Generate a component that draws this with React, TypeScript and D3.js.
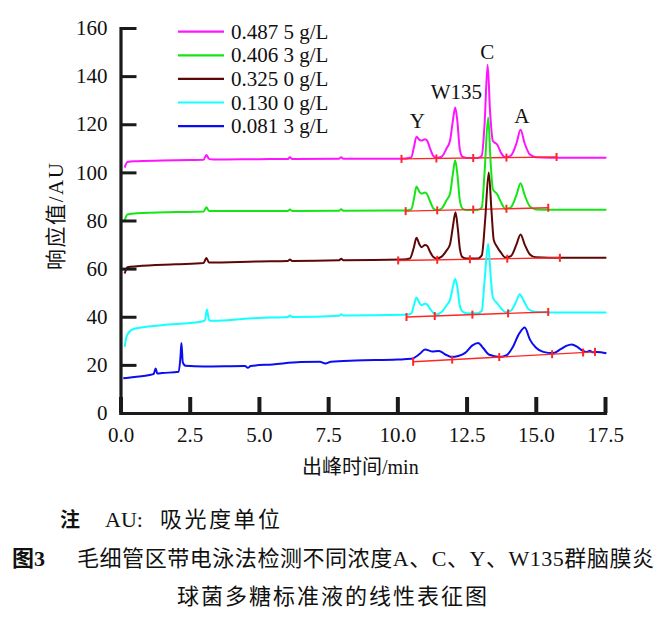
import React, { useEffect, useRef } from 'react';
import * as d3 from 'd3';

type Pt = [number, number];

// legend / series
const concentrations = ['0.487 5 g/L', '0.406 3 g/L', '0.325 0 g/L', '0.130 0 g/L', '0.081 3 g/L'];
const traceColors = ['#ff14ff', '#14e614', '#5e0707', '#14ffff', '#0c0cf0'];

// electropherograms, [time (min), response (AU)]
const trace4875: Pt[] = [
  [0.15, 102], [0.25, 104.3], [0.5, 104.6], [1.5, 104.9], [2.5, 105.1], [3.0, 105.2], [3.1, 107.2], [3.2, 105.6],
  [3.35, 105.3], [5, 105.5], [6.05, 105.6], [6.12, 106.3], [6.2, 105.6], [7.9, 105.7], [7.97, 106.3], [8.05, 105.7],
  [10.2, 105.7], [10.5, 106.2], [10.6, 110.5], [10.69, 114.8], [10.8, 113.5], [10.87, 113.2], [11.0, 113.8],
  [11.07, 113.3], [11.18, 110], [11.3, 106.8], [11.42, 106], [11.6, 106.5], [11.78, 110], [11.9, 113], [12.0, 121],
  [12.09, 127], [12.17, 121], [12.25, 110], [12.35, 106.5], [12.5, 106], [12.9, 106], [13.05, 107], [13.15, 120],
  [13.26, 144.7], [13.35, 125], [13.45, 113], [13.61, 111.5], [13.75, 108], [13.9, 106.3], [14.1, 107], [14.3, 112],
  [14.45, 117.7], [14.6, 112], [14.78, 107.5], [15.0, 106.3], [15.5, 106.1], [16.5, 106.1], [17.55, 106.1],
];
const trace4063: Pt[] = [
  [0.15, 80], [0.25, 82.5], [0.6, 83], [2, 83.5], [3.0, 83.7], [3.1, 85.5], [3.2, 83.9], [5, 84], [6.05, 84],
  [6.12, 84.6], [6.2, 84], [7.9, 84.1], [7.97, 84.7], [8.05, 84.1], [10.3, 84.2], [10.5, 84.6], [10.6, 89],
  [10.69, 94.1], [10.8, 91.8], [10.87, 91.2], [11.0, 91.6], [11.07, 91], [11.18, 88], [11.3, 85], [11.42, 84.3],
  [11.6, 85], [11.78, 88.5], [11.9, 91], [12.0, 99], [12.09, 105], [12.17, 99], [12.25, 89], [12.35, 85], [12.5, 84.4],
  [12.9, 84.4], [13.05, 85.5], [13.15, 100], [13.28, 122.8], [13.37, 104], [13.45, 93], [13.6, 91], [13.75, 87.5],
  [13.9, 84.8], [14.1, 85.5], [14.3, 90.5], [14.45, 95.5], [14.6, 90.5], [14.78, 86], [15.0, 84.6], [15.5, 84.5],
  [17.55, 84.5],
];
const trace3250: Pt[] = [
  [0.15, 58], [0.25, 60.6], [0.6, 61], [2, 61.8], [3.0, 62.3], [3.1, 64.4], [3.2, 62.5], [5, 63], [6.05, 63.2],
  [6.12, 63.8], [6.2, 63.2], [7.9, 63.5], [7.97, 64.1], [8.05, 63.5], [10.2, 63.8], [10.45, 64.2], [10.6, 69],
  [10.69, 72.8], [10.8, 70], [10.87, 68.9], [11.0, 69.8], [11.07, 69.6], [11.18, 67], [11.3, 64.8], [11.42, 64.2],
  [11.6, 65], [11.78, 67.6], [11.9, 70], [12.0, 77], [12.1, 83.4], [12.18, 77], [12.26, 68], [12.35, 64.8],
  [12.5, 64.2], [12.9, 64.2], [13.05, 65.5], [13.17, 80], [13.3, 100], [13.4, 84], [13.48, 72], [13.61, 68.9],
  [13.75, 66.5], [13.9, 64.6], [14.1, 65.2], [14.3, 70], [14.45, 74.2], [14.6, 70], [14.78, 66], [15.0, 64.7],
  [15.5, 64.5], [17.55, 64.5],
];
const trace1300: Pt[] = [
  [0.15, 27.5], [0.2, 31], [0.27, 33], [0.5, 35], [1.5, 36.5], [2.85, 37.8], [3.05, 38.5], [3.12, 43], [3.2, 38.6],
  [3.3, 38.3], [5, 39.5], [6.05, 39.9], [6.12, 40.5], [6.2, 39.9], [7.9, 40.4], [7.97, 41], [8.05, 40.5], [10.3, 40.8],
  [10.5, 41.3], [10.6, 45], [10.69, 48], [10.8, 45.7], [10.87, 44.8], [11.0, 45.4], [11.07, 45.2], [11.18, 43.3],
  [11.3, 41.6], [11.42, 41], [11.6, 42], [11.78, 44.8], [11.9, 47], [12.0, 52], [12.09, 55.8], [12.17, 52], [12.25, 45],
  [12.35, 42.2], [12.5, 41.5], [12.9, 41.5], [13.05, 42.5], [13.15, 55], [13.28, 70.3], [13.37, 57], [13.45, 48],
  [13.61, 45.5], [13.75, 43.5], [13.9, 41.9], [14.1, 42.5], [14.3, 46.5], [14.42, 49.3], [14.57, 46.5], [14.75, 43],
  [15.0, 42], [15.5, 41.8], [17.55, 41.8],
];
const trace0813: Pt[] = [
  [0.1, 14.4], [0.5, 15], [1.05, 15.8], [1.2, 16.3], [1.27, 18.5], [1.33, 16.4], [1.5, 16.6], [2.1, 17.1], [2.17, 24],
  [2.2, 29.1], [2.25, 21], [2.35, 19.6], [3, 19.3], [4.5, 19.5], [4.6, 18.8], [4.7, 19.5], [5.5, 20.2], [6.5, 21.2],
  [7.2, 21.3], [7.4, 20.6], [7.6, 21.3], [8.5, 21.8], [10, 22.2], [10.5, 22.5], [10.8, 24.5], [11.0, 26.4],
  [11.25, 25.6], [11.5, 25.8], [11.75, 24.2], [11.95, 23.3], [12.2, 23.7], [12.45, 25], [12.7, 28], [12.92, 29.1],
  [13.1, 27], [13.3, 24.3], [13.7, 23.3], [13.95, 24], [14.15, 27], [14.4, 33], [14.6, 35.5], [14.79, 30.5],
  [15.0, 27.2], [15.27, 25.4], [15.63, 24.9], [15.9, 26.5], [16.1, 27.9], [16.3, 28.5], [16.5, 27.5], [16.7, 25.8],
  [16.85, 25.4], [16.95, 25.9], [17.05, 25.2], [17.2, 25.4], [17.55, 24.8],
];

// integration baselines (red) and their cut marks
const baseline4875: Pt[] = [[10.15, 105.6], [15.75, 106.4]];
const baseline4063: Pt[] = [[10.3, 83.9], [15.45, 85.3]];
const baseline3250: Pt[] = [[10.03, 63.4], [15.87, 64.5]];
const baseline1300: Pt[] = [[10.33, 39.9], [15.45, 42]];
const baseline0813: Pt[] = [[10.57, 21.3], [17.14, 25.4]];
const marks4875 = [10.15, 11.41, 12.74, 13.94, 15.75];
const marks4063 = [10.3, 11.44, 12.74, 13.94, 15.45];
const marks3250 = [10.03, 11.44, 12.62, 13.97, 15.87];
const marks1300 = [10.33, 11.35, 12.71, 14.0, 15.45];
const marks0813 = [10.57, 11.98, 13.68, 15.59, 16.71, 17.14];

// peak annotations
const peakNames = ['Y', 'W135', 'C', 'A'];
const peakTimes = [10.72, 12.13, 13.25, 14.5];
const peakLabelLevels = [118.4, 130.6, 147, 120.7];

const yTicks = [0, 20, 40, 60, 80, 100, 120, 140, 160];
const xTicks = [0, 2.5, 5, 7.5, 10, 12.5, 15, 17.5];

const serif = '"Liberation Serif", "Times New Roman", "Noto Sans CJK SC", serif';
const cjk = '"Liberation Serif", "Noto Sans CJK SC", serif';

function Chart() {
  const ref = useRef<SVGSVGElement>(null);

  useEffect(() => {
    const svg = d3.select(ref.current);
    svg.selectAll('*').remove();

    const x = d3.scaleLinear().domain([0, 17.5]).range([120.5, 605]);
    const y = d3.scaleLinear().domain([0, 160]).range([413, 28]);
    const line = d3.line<Pt>().x(d => x(d[0])).y(d => y(d[1])).curve(d3.curveMonotoneX);
    const straight = d3.line<Pt>().x(d => x(d[0])).y(d => y(d[1]));

    const series = [
      { trace: trace4875, base: baseline4875, marks: marks4875 },
      { trace: trace4063, base: baseline4063, marks: marks4063 },
      { trace: trace3250, base: baseline3250, marks: marks3250 },
      { trace: trace1300, base: baseline1300, marks: marks1300 },
      { trace: trace0813, base: baseline0813, marks: marks0813 },
    ];

    const plot = svg.append('g');
    series.forEach((s, i) => {
      plot.append('path')
        .datum(s.trace)
        .attr('d', line)
        .attr('fill', 'none')
        .attr('stroke', traceColors[i])
        .attr('stroke-width', 2)
        .attr('stroke-linejoin', 'round');

      plot.append('path')
        .datum(s.base)
        .attr('d', straight)
        .attr('fill', 'none')
        .attr('stroke', '#ff2626')
        .attr('stroke-width', 1.4);

      const along = d3.scaleLinear().domain([s.base[0][0], s.base[1][0]]).range([s.base[0][1], s.base[1][1]]);
      plot.append('g')
        .selectAll('line')
        .data(s.marks)
        .join('line')
        .attr('x1', d => x(d))
        .attr('x2', d => x(d))
        .attr('y1', d => y(along(d)) - 4)
        .attr('y2', d => y(along(d)) + 4)
        .attr('stroke', '#ff2626')
        .attr('stroke-width', 2);
    });

    // axes, ticks point inward
    const yAxis = svg.append('g')
      .attr('transform', `translate(${x(0)},0)`)
      .call(d3.axisLeft(y).tickValues(yTicks).tickFormat(d3.format('d')).tickSize(-16).tickSizeOuter(0).tickPadding(13));
    const xAxis = svg.append('g')
      .attr('transform', `translate(0,${y(0)})`)
      .call(d3.axisBottom(x).tickValues(xTicks).tickFormat(d3.format('.1f')).tickSize(-16).tickSizeOuter(0).tickPadding(14));

    [yAxis, xAxis].forEach(a => {
      a.attr('font-family', serif).attr('font-size', 21);
      a.select('.domain').attr('stroke', '#1a1a1a').attr('stroke-width', 3.2).attr('stroke-linecap', 'square');
      a.selectAll('.tick text').attr('fill', '#111');
    });
    yAxis.selectAll('.tick line').attr('stroke', '#1a1a1a').attr('stroke-width', 3);
    xAxis.selectAll('.tick line').attr('stroke', '#1a1a1a').attr('stroke-width', 4);

    // peak labels
    svg.append('g')
      .selectAll('text')
      .data(peakNames)
      .join('text')
      .attr('x', (d, i) => x(peakTimes[i]))
      .attr('y', (d, i) => y(peakLabelLevels[i]))
      .attr('text-anchor', 'middle')
      .attr('font-family', serif)
      .attr('font-size', 21)
      .attr('fill', '#111')
      .text(d => d);

    // legend
    const legend = svg.append('g')
      .selectAll('g')
      .data(concentrations)
      .join('g')
      .attr('transform', (d, i) => `translate(178,${31.7 + i * 23.6})`);
    legend.append('line')
      .attr('x1', 0).attr('x2', 46)
      .attr('stroke', (d, i) => traceColors[i])
      .attr('stroke-width', 2.2);
    legend.append('text')
      .attr('x', 53)
      .attr('y', 7)
      .attr('font-family', serif)
      .attr('font-size', 21)
      .attr('fill', '#111')
      .text(d => d);
  }, []);

  return (
    <svg ref={ref} width={667} height={621} viewBox="0 0 667 621"
      style={{ position: 'absolute', left: 0, top: 0, background: '#fff', display: 'block' }}>
    </svg>
  );
}

function Captions() {
  return (
    <svg width={667} height={621} viewBox="0 0 667 621"
      style={{ position: 'absolute', left: 0, top: 0, pointerEvents: 'none' }}>
      <text transform="translate(63,216.5) rotate(-90)" fontFamily={cjk} fontSize={21}
        fill="#111" textAnchor="middle" textLength={107} lengthAdjust="spacing">响应值/AU</text>
      <text x={302} y={474} fontFamily={cjk} fontSize={20} fill="#111">出峰时间/min</text>
      <text x={60} y={527} fontFamily={cjk} fontSize={20} fontWeight="bold" fill="#111">注</text>
      <text x={105} y={527} fontFamily={serif} fontSize={22} fill="#111">AU:</text>
      <text x={160} y={527} fontFamily={cjk} fontSize={22} fill="#111" textLength={120} lengthAdjust="spacing">吸光度单位</text>
      <text x={12} y={566} fontFamily={cjk} fontSize={22} fontWeight="bold" fill="#111">图3</text>
      <text x={77} y={566} fontFamily={cjk} fontSize={22} fill="#111" textLength={577} lengthAdjust="spacing">毛细管区带电泳法检测不同浓度A、C、Y、W135群脑膜炎</text>
      <text x={177} y={604} fontFamily={cjk} fontSize={22} fill="#111" textLength={310} lengthAdjust="spacing">球菌多糖标准液的线性表征图</text>
    </svg>
  );
}

export default function App() {
  return (
    <div style={{ position: 'absolute', left: 0, top: 0, width: 667, height: 621, background: '#fff' }}>
      <Chart />
      <Captions />
    </div>
  );
}
